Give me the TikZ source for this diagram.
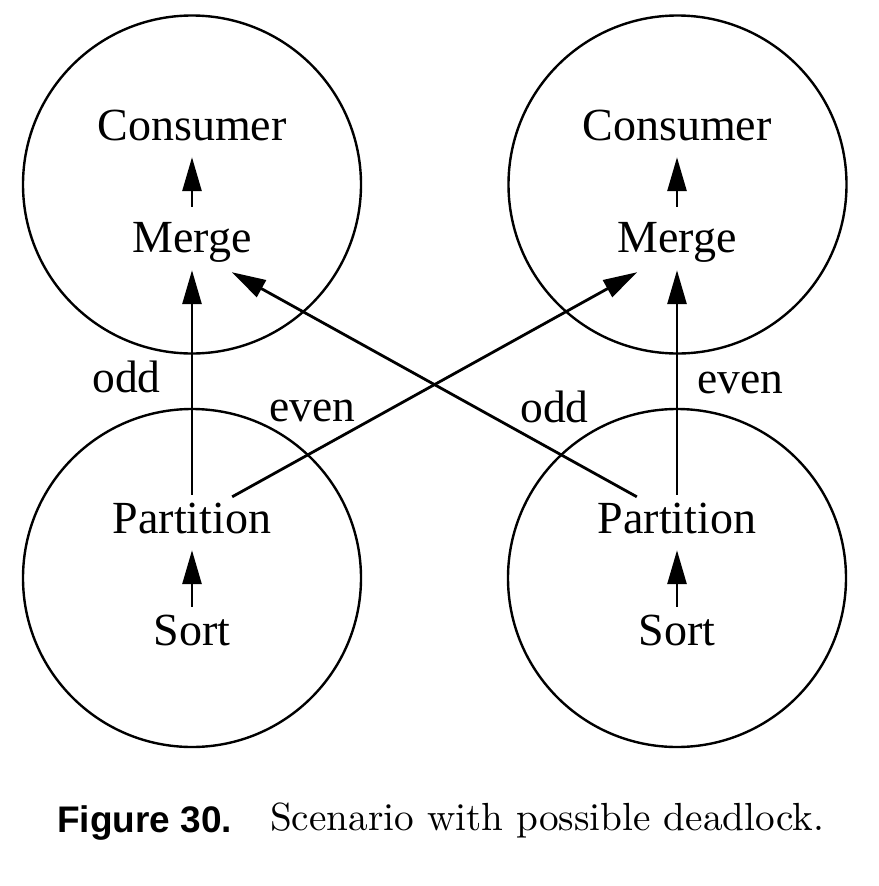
\documentclass[tikz,border=0pt]{standalone}
\usepackage{fontspec}
\newfontfamily\tms{Liberation Serif}
\newfontfamily\hvb{Liberation Sans}
\usetikzlibrary{arrows.meta}
\begin{document}
\begin{tikzpicture}[x=1pt,y=-1pt,
  grp/.style={circle,draw,line width=2.4pt,minimum size=338pt,inner sep=0pt},
  lbl/.style={font=\tms\fontsize{46}{50}\selectfont,inner sep=0pt,text height=31pt,text depth=10pt,anchor=base},
  tag/.style={font=\tms\fontsize{45.5}{50}\selectfont,inner sep=0pt,anchor=base},
  arr/.style={line width=2.8pt,-{Triangle[length=34pt,width=19pt]}}]
\useasboundingbox (0,0) rectangle (878,886);
% process groups
\node[grp] (gTL) at (192,184.5) {};
\node[grp] (gTR) at (677.5,184.5) {};
\node[grp] (gBL) at (192,578) {};
\node[grp] (gBR) at (677,578) {};
% processes
\node[lbl] (cL) at (192,140) {Consumer};
\node[lbl] (mL) at (192,252) {Merge};
\node[lbl] (pL) at (192,533) {Partition};
\node[lbl] (sL) at (192,645) {Sort};
\node[lbl] (cR) at (677,140) {Consumer};
\node[lbl] (mR) at (677,252) {Merge};
\node[lbl] (pR) at (677,533) {Partition};
\node[lbl] (sR) at (677,645) {Sort};
% arrows
\draw[arr,shorten <=14pt,shorten >=7pt] (mL.north) -- (cL.south);
\draw[arr,shorten <=14pt,shorten >=7pt] (mR.north) -- (cR.south);
\draw[arr,shorten <=7pt,shorten >=7pt] (sL.north) -- (pL.south);
\draw[arr,shorten <=7pt,shorten >=7pt] (sR.north) -- (pR.south);
\draw[arr,shorten <=7pt,shorten >=8pt] (pL.north) -- (mL.south);
\draw[arr,shorten <=7pt,shorten >=8pt] (pR.north) -- (mR.south);
\draw[arr] ([shift={(39.25,-5)}]pR.north west) -- ([shift={(-20,10)}]mL.south east);
\draw[arr] ([shift={(-39.25,-5)}]pL.north east) -- ([shift={(20,10)}]mR.south west);
% labels
\node[tag] (oddL) at (126.5,392) {odd};
\node[tag] (evenL) at (312,421) {even};
\node[tag] (oddR) at (554.5,422) {odd};
\node[tag] (evenR) at (740.5,393) {even};
% caption
\node[anchor=base west,inner sep=0pt,font=\hvb\bfseries\fontsize{37}{42}\selectfont] (fig) at (57,832) {Figure 30.};
\node[anchor=base west,inner sep=0pt] (capt) at (270,830) {\scalebox{3.92}{\fontsize{10}{12}\selectfont Scenario with possible deadlock.}};
\end{tikzpicture}
\end{document}
